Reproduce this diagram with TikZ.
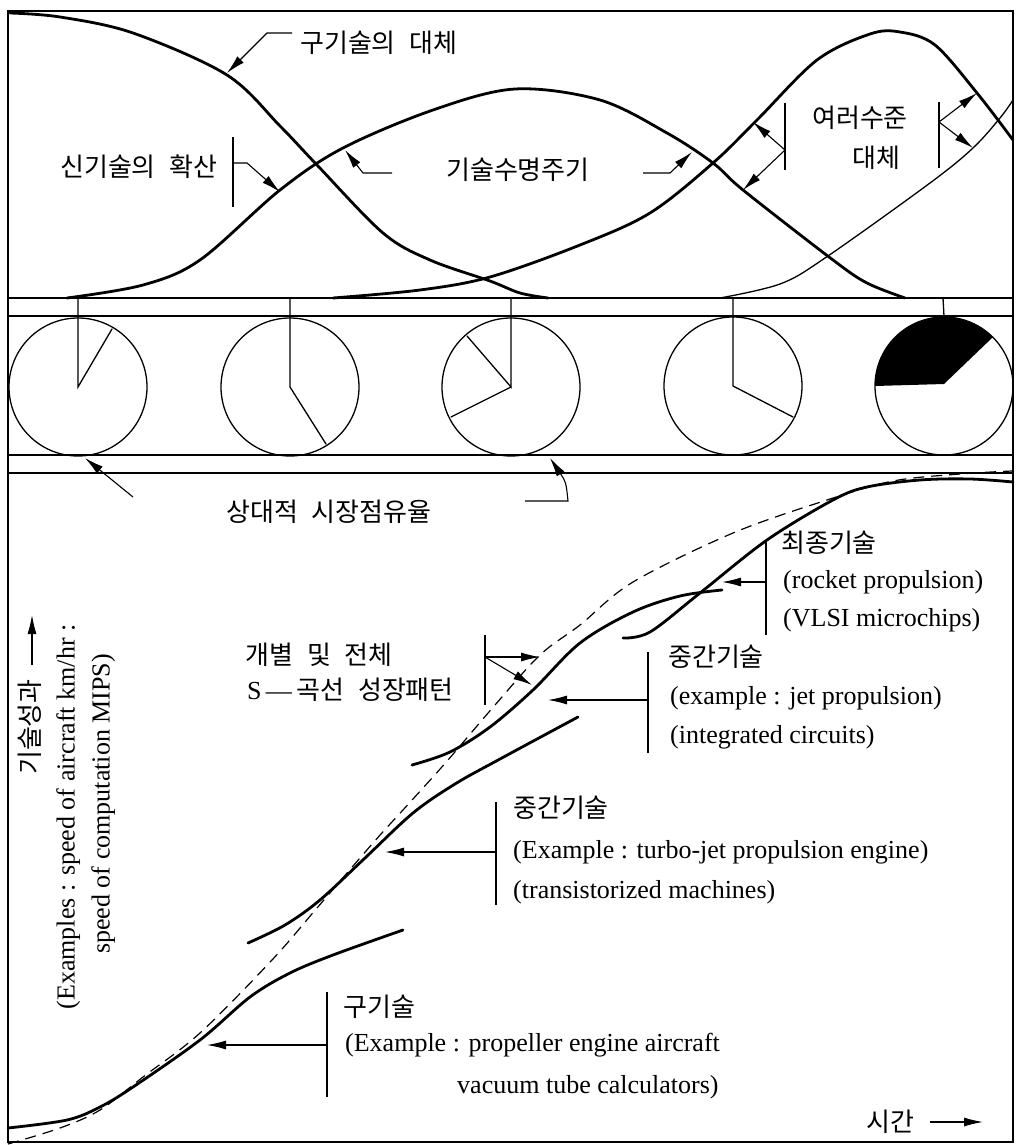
\documentclass[tikz,border=0pt]{standalone}
\usepackage{fontspec}
\setmainfont{Liberation Serif}
\newfontfamily\kr[WordSpace=2.4]{Noto Sans CJK KR}
\usetikzlibrary{arrows.meta}
\tikzset{
  thickc/.style={line width=2.8pt, line cap=round, line join=round},
  thinc/.style={line width=1.3pt, line cap=round},
  frameline/.style={line width=1.6pt},
  bar/.style={line width=1.2pt},
  arr/.style={line width=1.1pt, -{Latex[length=19pt,width=9pt]}},
  lat/.style={font=\fontsize{26}{30}\selectfont, anchor=west, inner sep=0pt, text height=18pt, text depth=5pt},
  kor/.style={font=\kr\fontsize{26}{30}\selectfont, anchor=west, inner sep=0pt, text height=22pt, text depth=3pt},
  pie/.style={circle, draw, line width=1.3pt, minimum size=138pt, inner sep=0pt},
  smoothc/.style={smooth, tension=0.55}
}
\begin{document}
\begin{tikzpicture}[x=1pt,y=-1pt]
\useasboundingbox (0,0) rectangle (1018,1145);
% frame and bands
\draw[frameline] (8,11) rectangle (1013,1142);
\draw[frameline] (8,298) -- (1013,298);
\draw[frameline] (8,316) -- (1013,316);
\draw[frameline] (8,455) -- (1013,455);
\draw[frameline] (8,473) -- (1013,473);

% ---------- top panel curves ----------
\draw[thickc] plot[smoothc] coordinates {(10,13) (60,17) (133,33) (227,75) (280,126) (317,165) (383,233) (430,260) (490,281) (520,293) (548,298)};
\draw[thickc] plot[smoothc] coordinates {(67,298) (143,285) (200,260) (280,190) (343,148) (433,110) (515,89) (600,100) (667,133) (713,163) (743,190) (833,260) (867,283) (905,298)};
\draw[thickc] plot[smoothc] coordinates {(333,298) (420,290) (490,277) (580,245) (650,213) (713,163) (757,120) (817,60) (870,34) (900,32) (935,45) (977,93) (1013,140)};
\draw[thinc] plot[smoothc] coordinates {(720,298) (780,284) (825,258) (930,183) (973,148) (1000,118) (1013,100)};

% top labels
\node[kor] (k1) at (300,43) {구기술의 대체};
\node[kor] (k2) at (60,167) {신기술의 확산};
\node[kor] (k3) at (446,170) {기술수명주기};
\node[kor] (k4) at (812,118) {여러수준};
\node[kor] (k5) at (852,158) {대체};

\coordinate (a1s) at (292,33); \coordinate (a1m) at (267,33); \coordinate (a1t) at (227,73);
\draw[arr] (a1s) -- (a1m) -- (a1t);
\coordinate (b2t) at (233,137); \coordinate (b2b) at (233,207);
\draw[bar] (b2t) -- (b2b);
\coordinate (a2s) at (233,163); \coordinate (a2m) at (247,163); \coordinate (a2t) at (280,192);
\draw[arr] (a2s) -- (a2m) -- (a2t);
\coordinate (a3s) at (392,173); \coordinate (a3m) at (363,173); \coordinate (a3t) at (345,150);
\draw[arr] (a3s) -- (a3m) -- (a3t);
\coordinate (a4s) at (643,173); \coordinate (a4m) at (670,173); \coordinate (a4t) at (692,152);
\draw[arr] (a4s) -- (a4m) -- (a4t);
\coordinate (b4t) at (785,103); \coordinate (b4b) at (785,170); \coordinate (b4m) at (785,150);
\draw[bar] (b4t) -- (b4b);
\coordinate (a5t) at (753,122); \coordinate (a6t) at (743,190);
\draw[arr] (b4m) -- (a5t);
\draw[arr] (b4m) -- (a6t);
\coordinate (b5t) at (939,102); \coordinate (b5b) at (939,168); \coordinate (b5m) at (939,122);
\draw[bar] (b5t) -- (b5b);
\coordinate (a7t) at (977,93); \coordinate (a8t) at (973,148);
\draw[arr] (b5m) -- (a7t);
\draw[arr] (b5m) -- (a8t);

% ---------- pies ----------
\fill (944,384) -- (875,386) arc[start angle=-180, end angle=-45, radius=69] -- cycle;
\node[pie] (p1) at (78,387) {};
\node[pie] (p2) at (290,387) {};
\node[pie] (p3) at (511,387) {};
\node[pie] (p4) at (733,386) {};
\node[pie] (p5) at (944,386) {};
\draw[thinc] (78,298) -- (p1.center) -- (112,329);
\draw[thinc] (290,298) -- (p2.center) -- (326,444);
\draw[thinc] (511,298) -- (p3.center) -- (467,336);
\draw[thinc] (p3.center) -- (451,417);
\draw[thinc] (733,298) -- (p4.center) -- (793,417);
\draw[thinc] (943,298) -- (p5.north);

\node[kor] (k6) at (226,512) {상대적 시장점유율};
\coordinate (m1s) at (133,497); \coordinate (m1t) at (85,458);
\draw[arr] (m1s) -- (m1t);
\coordinate (m2s) at (525,501); \coordinate (m2m) at (568,501); \coordinate (m2t) at (550,458);
\draw[arr] (m2s) -- (m2m) .. controls (566,482) .. (m2t);

% ---------- bottom panel curves ----------
\draw[line width=1.2pt, dash pattern=on 11pt off 7pt] plot[smoothc] coordinates {(8,1144) (60,1128) (100,1110) (143,1077) (200,1033) (272,960) (317,908) (373,843) (413,799) (448,760) (495,705) (540,655) (580,625) (633,582) (733,533) (827,500) (893,481) (960,474) (1012,471)};
\draw[thickc] plot[smoothc] coordinates {(8,1128) (67,1120) (100,1107) (133,1087) (200,1040) (250,997) (290,973) (333,955) (403,930)};
\draw[thickc] plot[smoothc] coordinates {(248,943) (285,925) (320,900) (365,858) (413,813) (455,784) (500,759) (578,717)};
\draw[thickc] plot[smoothc] coordinates {(412,765) (450,752) (490,727) (533,690) (580,643) (633,612) (680,596) (722,590)};
\draw[thickc] plot[smoothc] coordinates {(623,638) (650,632) (700,593) (767,540) (833,500) (867,487) (920,480) (970,479) (1013,482)};

% bottom labels
\node[kor] (f1) at (781,543) {최종기술};
\node[lat] (f2) at (783,582) {(rocket propulsion)};
\node[lat] (f3) at (783,620) {(VLSI microchips)};
\coordinate (fbt) at (766,540); \coordinate (fbb) at (766,635); \coordinate (fbm) at (766,582); \coordinate (fbtip) at (722,582);
\draw[bar] (fbt) -- (fbb);
\draw[arr] (fbm) -- (fbtip);

\node[kor] (j1) at (668,657) {중간기술};
\node[lat] (j2) at (670,698) {(example : jet propulsion)};
\node[lat] (j3) at (670,737) {(integrated circuits)};
\coordinate (jbt) at (648,652); \coordinate (jbb) at (648,753); \coordinate (jbm) at (648,700); \coordinate (jbtip) at (548,700);
\draw[bar] (jbt) -- (jbb);
\draw[arr] (jbm) -- (jbtip);

\node[kor] (s1) at (245,655) {개별 및 전체};
\node[anchor=west, inner sep=0pt, text height=18pt, text depth=5pt] (s2) at (247,693) {\fontsize{26}{30}\selectfont S\,—\,{\kr\fontsize{26}{30}\selectfont 곡선 성장패턴}};
\coordinate (sbt) at (485,635); \coordinate (sbb) at (485,705); \coordinate (sbm) at (485,657);
\coordinate (st1) at (540,657); \coordinate (st2) at (532,685);
\draw[bar] (sbt) -- (sbb);
\draw[arr] (sbm) -- (st1);
\draw[arr] (sbm) -- (st2);

\node[kor] (t1) at (513,808) {중간기술};
\node[lat] (t2) at (513,852) {(Example : turbo-jet propulsion engine)};
\node[lat] (t3) at (513,892) {(transistorized machines)};
\coordinate (tbt) at (496,802); \coordinate (tbb) at (496,905); \coordinate (tbm) at (496,852); \coordinate (tbtip) at (385,852);
\draw[bar] (tbt) -- (tbb);
\draw[arr] (tbm) -- (tbtip);

\node[kor] (o1) at (343,1007) {구기술};
\node[lat] (o2) at (345,1045) {(Example : propeller engine aircraft};
\node[lat] (o3) at (457,1087) {vacuum tube calculators)};
\coordinate (obt) at (327,992); \coordinate (obb) at (327,1097); \coordinate (obm) at (327,1045); \coordinate (obtip) at (207,1045);
\draw[bar] (obt) -- (obb);
\draw[arr] (obm) -- (obtip);

\node[kor] (time) at (866,1122) {시간};
\coordinate (tas) at (930,1122); \coordinate (tat) at (983,1122);
\draw[arr] (tas) -- (tat);

% y-axis label
\node[kor, rotate=90, anchor=center] (ya) at (30,727) {기술성과};
\coordinate (yas) at (32,665); \coordinate (yat) at (32,615);
\draw[arr] (yas) -- (yat);
\node[lat, rotate=90, anchor=center] (yb) at (68,817) {(Examples : speed of aircraft km/hr :};
\node[lat, rotate=90, anchor=center] (yc) at (103,804) {speed of computation MIPS)};
\end{tikzpicture}
\end{document}
